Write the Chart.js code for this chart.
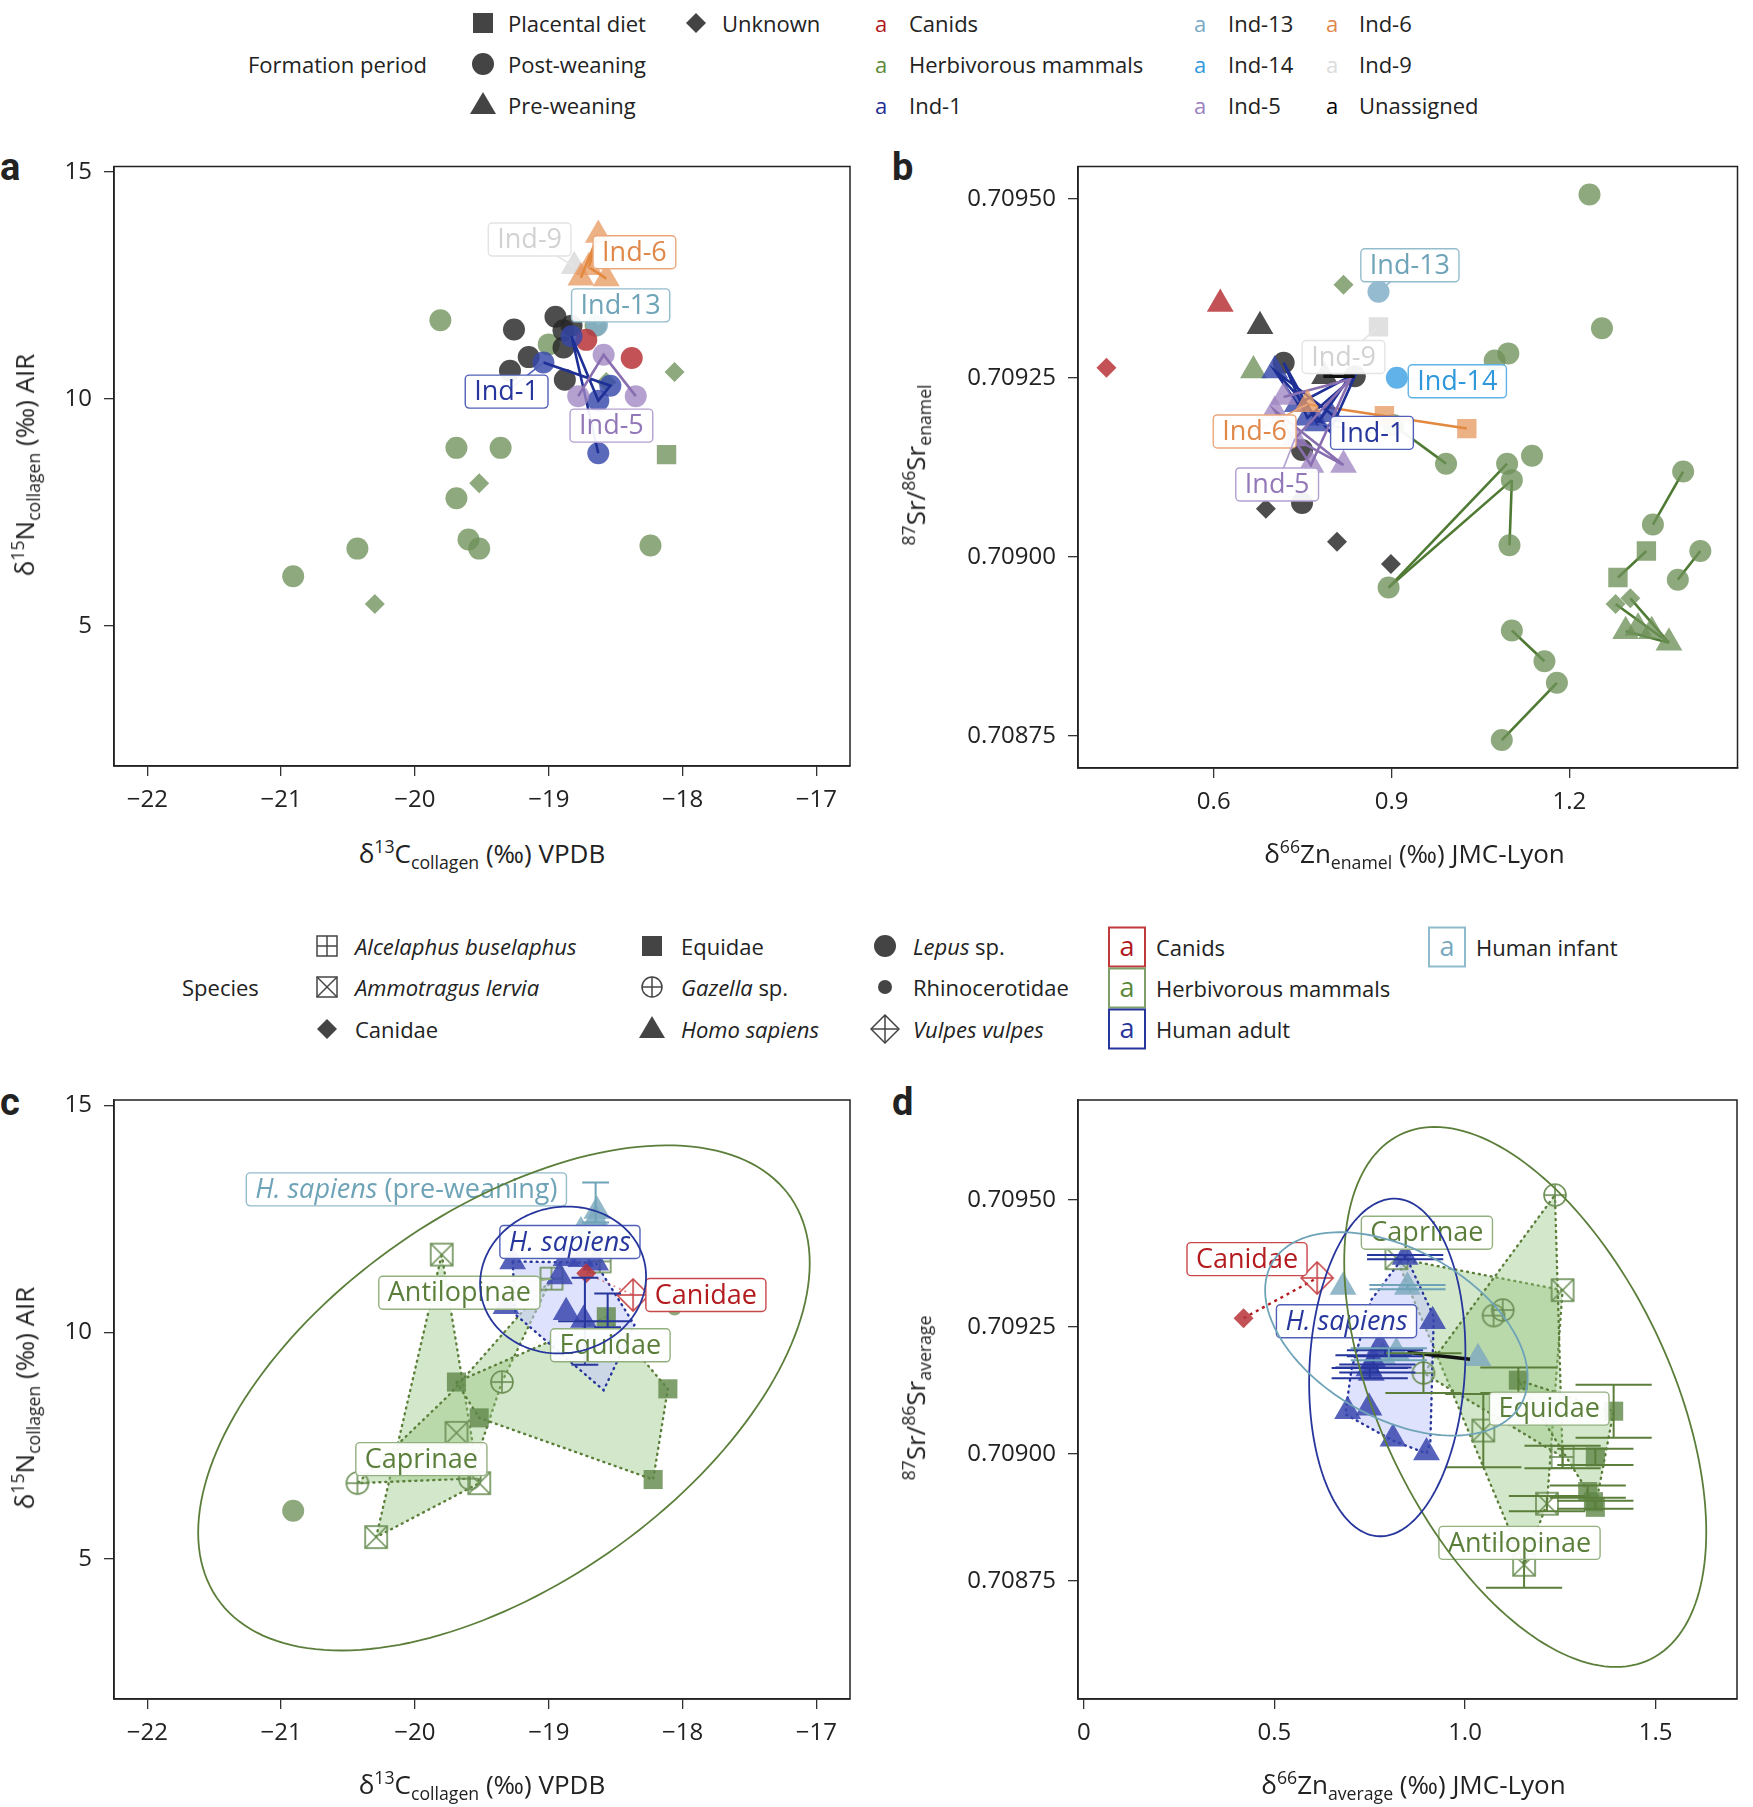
<!DOCTYPE html>
<html>
<head>
<meta charset="utf-8">
<script src="https://cdn.jsdelivr.net/npm/chart.js@4.4.1/dist/chart.umd.min.js"></script>
<style>
  html, body { margin: 0; background: #fff; font-family: "Open Sans", Roboto, sans-serif; color: #222; overflow: hidden; }
  #page { position: relative; width: 1753px; height: 1807px; overflow: hidden; }
  .abs { position: absolute; white-space: nowrap; }
  .leg { font-size: 22px; line-height: 30px; height: 30px; }
  .sym { position: absolute; transform: translate(-50%, -50%); }
  .box { position: absolute; width: 38px; height: 41px; border: 2px solid; box-sizing: border-box;
         transform: translate(-50%, -50%); text-align: center; font-size: 27px; line-height: 34px; }
  .letter { position: absolute; font-weight: bold; font-size: 38px; line-height: 40px; font-family: Roboto, sans-serif; }
  .xtitle { position: absolute; text-align: center; font-size: 26px; line-height: 36px; white-space: nowrap; }
  .ytitle { position: absolute; transform: translate(-50%, -50%) rotate(-90deg); font-size: 26px; white-space: nowrap; }
  sup, sub { font-size: 0.68em; }
  canvas { position: absolute; }
</style>
</head>
<body>
<div id="page">

  <!-- legend, top -->
  <svg class="sym" style="left:483px;top:23px" width="22" height="22"><rect x="1" y="1" width="20" height="20" fill="#444"/></svg>
  <div class="abs leg" style="left:508px;top:8px">Placental diet</div>
  <svg class="sym" style="left:696px;top:23px" width="22" height="22"><polygon points="11,1 21,11 11,21 1,11" fill="#444"/></svg>
  <div class="abs leg" style="left:722px;top:8px">Unknown</div>
  <div class="abs leg" style="left:248px;top:49px">Formation period</div>
  <svg class="sym" style="left:483px;top:64px" width="24" height="24"><circle cx="12" cy="12" r="11" fill="#444"/></svg>
  <div class="abs leg" style="left:508px;top:49px">Post-weaning</div>
  <svg class="sym" style="left:483px;top:103px" width="28" height="24"><polygon points="14,1 27,23 1,23" fill="#444"/></svg>
  <div class="abs leg" style="left:508px;top:90px">Pre-weaning</div>

  <div class="abs leg" style="left:875px;top:8px;color:#b0171c">a</div>
  <div class="abs leg" style="left:909px;top:8px">Canids</div>
  <div class="abs leg" style="left:875px;top:49px;color:#5b8a3a">a</div>
  <div class="abs leg" style="left:909px;top:49px">Herbivorous mammals</div>
  <div class="abs leg" style="left:875px;top:90px;color:#1e2f96">a</div>
  <div class="abs leg" style="left:909px;top:90px">Ind-1</div>
  <div class="abs leg" style="left:1194px;top:8px;color:#78a9bf">a</div>
  <div class="abs leg" style="left:1228px;top:8px">Ind-13</div>
  <div class="abs leg" style="left:1194px;top:49px;color:#2f98dc">a</div>
  <div class="abs leg" style="left:1228px;top:49px">Ind-14</div>
  <div class="abs leg" style="left:1194px;top:90px;color:#9a80c0">a</div>
  <div class="abs leg" style="left:1228px;top:90px">Ind-5</div>
  <div class="abs leg" style="left:1326px;top:8px;color:#e0884a">a</div>
  <div class="abs leg" style="left:1359px;top:8px">Ind-6</div>
  <div class="abs leg" style="left:1326px;top:49px;color:#dcdcdc">a</div>
  <div class="abs leg" style="left:1359px;top:49px">Ind-9</div>
  <div class="abs leg" style="left:1326px;top:90px;color:#000">a</div>
  <div class="abs leg" style="left:1359px;top:90px">Unassigned</div>

  <!-- legend, middle -->
  <div class="abs leg" style="left:182px;top:972px">Species</div>
  <svg class="sym" style="left:327px;top:946px" width="24" height="24"><rect x="2" y="2" width="20" height="20" fill="none" stroke="#444" stroke-width="1.5"/><line x1="12" y1="2" x2="12" y2="22" stroke="#444" stroke-width="1.5"/><line x1="2" y1="12" x2="22" y2="12" stroke="#444" stroke-width="1.5"/></svg>
  <div class="abs leg" style="left:355px;top:931px;font-style:italic">Alcelaphus buselaphus</div>
  <svg class="sym" style="left:327px;top:987px" width="24" height="24"><rect x="2" y="2" width="20" height="20" fill="none" stroke="#444" stroke-width="1.5"/><line x1="2" y1="2" x2="22" y2="22" stroke="#444" stroke-width="1.5"/><line x1="22" y1="2" x2="2" y2="22" stroke="#444" stroke-width="1.5"/></svg>
  <div class="abs leg" style="left:355px;top:972px;font-style:italic">Ammotragus lervia</div>
  <svg class="sym" style="left:327px;top:1029px" width="22" height="22"><polygon points="11,1 21,11 11,21 1,11" fill="#444"/></svg>
  <div class="abs leg" style="left:355px;top:1014px">Canidae</div>

  <svg class="sym" style="left:652px;top:946px" width="22" height="22"><rect x="1" y="1" width="20" height="20" fill="#444"/></svg>
  <div class="abs leg" style="left:681px;top:931px">Equidae</div>
  <svg class="sym" style="left:652px;top:987px" width="24" height="24"><circle cx="12" cy="12" r="10" fill="none" stroke="#444" stroke-width="1.5"/><line x1="12" y1="2" x2="12" y2="22" stroke="#444" stroke-width="1.5"/><line x1="2" y1="12" x2="22" y2="12" stroke="#444" stroke-width="1.5"/></svg>
  <div class="abs leg" style="left:681px;top:972px"><i>Gazella</i> sp.</div>
  <svg class="sym" style="left:652px;top:1027px" width="28" height="24"><polygon points="14,1 27,23 1,23" fill="#444"/></svg>
  <div class="abs leg" style="left:681px;top:1014px;font-style:italic">Homo sapiens</div>

  <svg class="sym" style="left:885px;top:946px" width="24" height="24"><circle cx="12" cy="12" r="11" fill="#444"/></svg>
  <div class="abs leg" style="left:913px;top:931px"><i>Lepus</i> sp.</div>
  <svg class="sym" style="left:885px;top:987px" width="16" height="16"><circle cx="8" cy="8" r="7" fill="#444"/></svg>
  <div class="abs leg" style="left:913px;top:972px">Rhinocerotidae</div>
  <svg class="sym" style="left:885px;top:1029px" width="30" height="30"><polygon points="15,1 29,15 15,29 1,15" fill="none" stroke="#444" stroke-width="1.5"/><line x1="15" y1="1" x2="15" y2="29" stroke="#444" stroke-width="1.5"/><line x1="1" y1="15" x2="29" y2="15" stroke="#444" stroke-width="1.5"/></svg>
  <div class="abs leg" style="left:913px;top:1014px;font-style:italic">Vulpes vulpes</div>

  <div class="box" style="left:1127px;top:947px;border-color:#c0393b;color:#b0171c">a</div>
  <div class="abs leg" style="left:1156px;top:932px">Canids</div>
  <div class="box" style="left:1127px;top:988px;border-color:#7f9f6a;color:#5b8a3a">a</div>
  <div class="abs leg" style="left:1156px;top:973px">Herbivorous mammals</div>
  <div class="box" style="left:1127px;top:1029px;border-color:#27369c;color:#27369c">a</div>
  <div class="abs leg" style="left:1156px;top:1014px">Human adult</div>
  <div class="box" style="left:1447px;top:947px;border-color:#8fbccd;color:#78a9bf">a</div>
  <div class="abs leg" style="left:1476px;top:932px">Human infant</div>

  <!-- panel letters -->
  <div class="letter" style="left:0px;top:147px">a</div>
  <div class="letter" style="left:892px;top:147px">b</div>
  <div class="letter" style="left:0px;top:1082px">c</div>
  <div class="letter" style="left:892px;top:1082px">d</div>

  <!-- charts (fixed pixel size) -->
  <canvas id="chartA" width="870" height="677" style="left:0px;top:151px;width:870px;height:677px"></canvas>
  <canvas id="chartB" width="873" height="679" style="left:880px;top:151px;width:873px;height:679px"></canvas>
  <canvas id="chartC" width="870" height="677" style="left:0px;top:1084px;width:870px;height:677px"></canvas>
  <canvas id="chartD" width="873" height="677" style="left:880px;top:1084px;width:873px;height:677px"></canvas>

  <!-- axis titles -->
  <div class="xtitle" style="left:114px;width:736px;top:828px">δ<sup>13</sup>C<sub>collagen</sub> (‰) VPDB</div>
  <div class="xtitle" style="left:1078px;width:673px;top:828px">δ<sup>66</sup>Zn<sub>enamel</sub> (‰) JMC-Lyon</div>
  <div class="xtitle" style="left:114px;width:736px;top:1759px">δ<sup>13</sup>C<sub>collagen</sub> (‰) VPDB</div>
  <div class="xtitle" style="left:1078px;width:671px;top:1759px">δ<sup>66</sup>Zn<sub>average</sub> (‰) JMC-Lyon</div>
  <div class="ytitle" style="left:25px;top:465px">δ<sup>15</sup>N<sub>collagen</sub> (‰) AIR</div>
  <div class="ytitle" style="left:916px;top:465px"><sup>87</sup>Sr/<sup>86</sup>Sr<sub>enamel</sub></div>
  <div class="ytitle" style="left:25px;top:1398px">δ<sup>15</sup>N<sub>collagen</sub> (‰) AIR</div>
  <div class="ytitle" style="left:916px;top:1398px"><sup>87</sup>Sr/<sup>86</sup>Sr<sub>average</sub></div>
</div>

<script>
// ---- ticks ----
const cTicksX = [-22, -21, -20, -19, -18, -17];
const cTickLabelsX = ['−22', '−21', '−20', '−19', '−18', '−17'];
const nTicksY = [5, 10, 15];
const nTickLabelsY = ['5', '10', '15'];
const srTicks = [0.70875, 0.709, 0.70925, 0.7095];
const srTickLabels = ['0.70875', '0.70900', '0.70925', '0.70950'];
const znTicksB = [0.6, 0.9, 1.2];
const znTickLabelsB = ['0.6', '0.9', '1.2'];
const znTicksD = [0, 0.5, 1, 1.5];
const znTickLabelsD = ['0', '0.5', '1.0', '1.5'];

// ---- panel a : d13C / d15N collagen, by formation period ----
const aHerbCircle = [[-19.81, 11.73], [-19.69, 8.92], [-19.36, 8.92], [-19.69, 7.81], [-19.60, 6.90], [-19.52, 6.70],
  [-20.43, 6.70], [-20.91, 6.09], [-18.24, 6.77], [-19.00, 11.20], [-18.65, 11.61]];
const aHerbDiamond = [[-18.06, 10.59], [-18.57, 10.37], [-19.52, 8.14], [-20.30, 5.48]];
const aHerbSquare = [[-18.12, 8.77]];
const aBlack = [[-18.95, 11.81], [-19.26, 11.53], [-18.89, 11.51], [-18.83, 11.61], [-19.15, 10.92], [-19.29, 10.62],
  [-18.89, 11.13], [-18.88, 10.42]];
const aCanid = [[-18.72, 11.30], [-18.38, 10.90]];
const aInd1 = [[-19.04, 10.80], [-18.83, 11.38], [-18.54, 10.29], [-18.63, 9.96], [-18.63, 8.80]];
const aInd1Path = [[-19.04, 10.80], [-18.54, 10.29], [-18.63, 9.96], [-18.83, 11.38], [-18.63, 8.80]];
const aInd5 = [[-18.59, 10.97], [-18.78, 10.06], [-18.35, 10.06]];
const aInd5Path = [[-18.78, 10.06], [-18.59, 10.97], [-18.35, 10.06]];
const aInd6 = [[-18.63, 13.61], [-18.70, 12.90], [-18.76, 12.67], [-18.57, 12.65]];
const aInd6Path = [[-18.76, 12.67], [-18.63, 13.61], [-18.70, 12.90], [-18.57, 12.65]];
const aInd9 = [[-18.81, 12.92]];
const aInd13 = [[-18.64, 11.63]];

// ---- panel b : d66Zn / 87Sr/86Sr enamel ----
const bHerbCircle = [[1.234, 0.709506], [1.255, 0.709319], [1.097, 0.709284], [1.074, 0.709274], [0.992, 0.709130],
  [0.903, 0.709184], [1.137, 0.709141], [1.095, 0.709130], [1.103, 0.709107], [0.895, 0.708957], [1.099, 0.709016],
  [1.392, 0.709119], [1.341, 0.709045], [1.421, 0.709008], [1.383, 0.708968], [1.103, 0.708897], [1.158, 0.708854],
  [1.179, 0.708824], [1.086, 0.708744]];
const bHerbSquare = [[1.330, 0.709008], [1.282, 0.708971]];
const bHerbDiamond = [[1.278, 0.708934], [1.303, 0.708942], [0.819, 0.709380]];
const bHerbTriangle = [[1.295, 0.708896], [1.368, 0.708880], [1.316, 0.708901], [1.339, 0.708896], [0.667, 0.709260]];
const bHerbLinks = [
  [[0.992, 0.709130], [0.903, 0.709184]], [[0.895, 0.708957], [1.095, 0.709130]], [[0.895, 0.708957], [1.103, 0.709107]],
  [[1.099, 0.709016], [1.103, 0.709107]], [[1.392, 0.709119], [1.341, 0.709045]], [[1.421, 0.709008], [1.383, 0.708968]],
  [[1.330, 0.709008], [1.282, 0.708971]], [[1.278, 0.708934], [1.368, 0.708880]], [[1.303, 0.708942], [1.368, 0.708880]],
  [[1.295, 0.708896], [1.368, 0.708880]], [[1.103, 0.708897], [1.158, 0.708854]], [[1.179, 0.708824], [1.086, 0.708744]]];
const bCanidDiamond = [[0.419, 0.709264]];
const bCanidTriangle = [[0.611, 0.709353]];
const bBlackTriangle = [[0.678, 0.709322], [0.787, 0.709252]];
const bBlackCircle = [[0.718, 0.709271], [0.838, 0.709252], [0.749, 0.709149], [0.749, 0.709075]];
const bBlackDiamond = [[0.688, 0.709067], [0.808, 0.709021], [0.899, 0.708990]];
const bBlackLink = [[0.785, 0.709252], [0.838, 0.709252]];
const bInd13 = [[0.878, 0.709370]];
const bInd9 = [[0.878, 0.709321]];
const bInd14 = [[0.909, 0.709250]];
const bInd6Square = [[0.888, 0.709197], [1.027, 0.709179]];
const bInd6Triangle = [[0.758, 0.709213]];
const bInd6Path = [[0.758, 0.709213], [1.027, 0.709179]];
const bInd1 = [[0.703, 0.709260], [0.775, 0.709186], [0.796, 0.709199], [0.758, 0.709194], [0.741, 0.709213]];
const bInd1Path = [[0.703, 0.709260], [0.796, 0.709175], [0.838, 0.709252], [0.758, 0.709194], [0.718, 0.709271],
  [0.775, 0.709186], [0.830, 0.709252], [0.741, 0.709213], [0.703, 0.709260], [0.805, 0.709195]];
const bInd5 = [[0.718, 0.709223], [0.703, 0.709204], [0.764, 0.709128], [0.819, 0.709128], [0.737, 0.709165]];
const bInd5Path = [[0.718, 0.709223], [0.830, 0.709248], [0.764, 0.709128], [0.703, 0.709204], [0.819, 0.709128],
  [0.737, 0.709165], [0.830, 0.709248]];

// ---- panel c : d13C / d15N collagen, by species ----
const cLepus = [[-20.91, 6.06]];
const cRhino = [[-18.06, 10.52]];
const cAmmotragus = [[-19.80, 11.71], [-19.69, 7.78], [-19.52, 6.67], [-20.29, 5.48]];
const cGazella = [[-19.35, 8.90], [-20.43, 6.67], [-19.59, 6.77]];
const cAlcelaphus = [[-18.98, 11.18], [-18.62, 11.56]];
const cEquidae = [[-19.69, 8.90], [-19.52, 8.11], [-18.11, 8.75], [-18.22, 6.75], [-18.57, 10.34]];
const cVulpes = [[-18.37, 10.82]];
const cCanidae = [[-18.72, 11.30]];
const cAdult = [[-19.27, 11.56], [-18.92, 11.23], [-18.87, 10.44], [-18.74, 10.27], [-19.32, 10.57], [-18.87, 11.63],
  [-18.76, 11.61], [-18.65, 11.53]];
const cInfant = [[-18.64, 12.67], [-18.65, 12.49], [-18.67, 12.01], [-18.76, 12.22]];
const cHullAdult = [[-19.27, 11.56], [-18.65, 11.53], [-18.36, 10.16], [-18.59, 8.72], [-19.25, 10.39]];
const cHullInfant = [[-18.64, 12.72], [-18.58, 12.55], [-18.62, 11.95], [-18.76, 12.22]];
const cHullCaprinae = [[-19.80, 11.71], [-19.52, 6.67], [-20.29, 5.48]];
const cHullAntilopinae = [[-18.98, 11.18], [-19.35, 8.90], [-19.59, 6.77], [-20.43, 6.67], [-19.75, 8.60]];
const cHullEquidae = [[-19.69, 8.90], [-18.57, 10.34], [-18.11, 8.75], [-18.22, 6.75], [-19.52, 8.11]];
const cCanidLink = [[-18.72, 11.30], [-18.37, 10.82]];
const cErrY = [[-18.73, 10.24, 0.96], [-18.56, 10.48, 0.37]];       // x, y, y-error (adult)
const cErrYInfant = [[-18.65, 12.86, 0.44]];
const cErrX = [[-18.655, 10.24, 0.275]];                             // x, y, x-error (adult)
const cEllipses = [[-19.335, 8.55, 2.285, 5.57, 0.533], [-18.893, 11.15, 0.62, 1.62, 0.05]];  // cx, cy, sx, sy, rho

// ---- panel d : d66Zn / 87Sr/86Sr average, by species ----
const dCanidae = [[0.419, 0.709267]];
const dVulpes = [[0.612, 0.709346]];
const dAmmotragus = [[0.820, 0.709385], [1.256, 0.709322], [1.048, 0.709046], [1.215, 0.708902], [1.155, 0.708782]];
const dGazella = [[1.236, 0.709509], [1.099, 0.709283], [1.075, 0.709272], [0.891, 0.709159]];
const dAlcelaphus = [[1.256, 0.708994]];
const dEquidae = [[1.140, 0.709145], [1.390, 0.709084], [1.342, 0.708994], [1.322, 0.708926], [1.337, 0.708906], [1.342, 0.708895]];
const dAdult = [[0.843, 0.709387], [0.915, 0.709261], [0.748, 0.709168], [0.777, 0.709211], [0.692, 0.709084],
  [0.748, 0.709091], [0.811, 0.709030], [0.899, 0.709003], [0.754, 0.709159], [0.760, 0.709182]];
const dInfant = [[0.680, 0.709328], [0.849, 0.709328], [1.034, 0.709188], [0.784, 0.709191], [0.820, 0.709200]];
const dBlackLink = [[0.849, 0.709200], [1.013, 0.709186]];
const dCanidLink = [[0.419, 0.709267], [0.612, 0.709346]];
const dHullAdult = [[0.843, 0.709392], [0.918, 0.709270], [0.909, 0.709023], [0.899, 0.709001], [0.811, 0.709026],
  [0.686, 0.709078], [0.702, 0.709166], [0.754, 0.709303]];
const dHullCaprinae = [[0.820, 0.709385], [1.256, 0.709322], [1.215, 0.708902], [1.155, 0.708782]];
const dHullAntilopinae = [[1.236, 0.709509], [1.256, 0.708994], [0.891, 0.709159]];
const dHullEquidae = [[1.140, 0.709145], [1.390, 0.709084], [1.342, 0.708895], [1.322, 0.708926]];
const dErrHerb = [[1.390, 0.709084, 0.000052], [1.048, 0.709046, 0.000072], [1.256, 0.708994, 0.000022],
  [1.342, 0.708994, 0.000016], [1.322, 0.708926, 0.000012], [1.342, 0.708900, 0.000008], [1.155, 0.708782, 0.000045],
  [0.891, 0.709159, 0.000039], [1.215, 0.708902, 0.000015], [1.140, 0.709145, 0.000025]];
const dErrAdult = [[0.843, 0.709387, 0.000004], [0.760, 0.709182, 0.000012], [0.750, 0.709159, 0.000010],
  [0.790, 0.709198, 0.000006], [0.770, 0.709168, 0.000008]];
const dErrInfant = [[0.849, 0.709328, 0.000004], [0.800, 0.709196, 0.000012]];
const dEllipses = [[1.158, 0.709112, 0.475, 0.000531, -0.5], [0.796, 0.709170, 0.205, 0.000332, 0.09],
  [0.820, 0.709236, 0.3445, 0.0002, -0.43]];

// colours
const GREEN = 'rgba(110,145,88,0.78)', GREEN_LINE = '#4f7a33', GREEN_TXT = '#5b7f3a', GREEN_BOX = '#93b07f';
const BLACK = 'rgba(38,38,38,0.82)', RED = 'rgba(185,52,58,0.85)';
const BLUE = 'rgba(55,72,172,0.82)', BLUE_LINE = '#1e2f96';
const PURPLE = 'rgba(160,135,195,0.78)', PURPLE_LINE = '#8a6fb0';
const ORANGE = 'rgba(232,155,100,0.78)', ORANGE_LINE = '#e2883f';
const LIGHT = 'rgba(222,222,222,0.95)', IND13 = 'rgba(130,175,200,0.85)', IND14 = 'rgba(80,170,230,0.9)';
const ADULT = 'rgba(58,72,175,0.85)', INFANT = 'rgba(128,172,192,0.85)';
const FONT = '"Open Sans", Roboto, sans-serif';

// outline symbols as small canvases
function sym(kind, color, s) {
  const c = document.createElement('canvas');
  c.width = c.height = s + 4;
  const g = c.getContext('2d');
  const m = 2, e = s + 2, h = (s + 4) / 2;
  g.strokeStyle = color; g.lineWidth = 1.6;
  const seg = (x1, y1, x2, y2) => { g.beginPath(); g.moveTo(x1, y1); g.lineTo(x2, y2); g.stroke(); };
  if (kind === 'boxX') { g.strokeRect(m, m, s, s); seg(m, m, e, e); seg(e, m, m, e); }
  if (kind === 'boxPlus') { g.strokeRect(m, m, s, s); seg(h, m, h, e); seg(m, h, e, h); }
  if (kind === 'circlePlus') { g.beginPath(); g.arc(h, h, s / 2, 0, 2 * Math.PI); g.stroke(); seg(h, m, h, e); seg(m, h, e, h); }
  if (kind === 'diamondPlus') {
    g.beginPath(); g.moveTo(h, m); g.lineTo(e, h); g.lineTo(h, e); g.lineTo(m, h); g.closePath(); g.stroke();
    seg(h, m, h, e); seg(m, h, e, h);
  }
  return c;
}
const SYM_BOXX = sym('boxX', '#6b8f55', 22);
const SYM_BOXPLUS = sym('boxPlus', '#6b8f55', 22);
const SYM_CPLUS = sym('circlePlus', '#6b8f55', 22);
const SYM_DPLUS = sym('diamondPlus', '#c8474a', 32);

const xy = arr => arr.map(p => ({ x: p[0], y: p[1] }));
function sc(arr, style, color, r) {
  return { data: xy(arr), pointStyle: style, pointRadius: r, pointHoverRadius: r,
    backgroundColor: color, borderColor: color, borderWidth: 0, showLine: false };
}
function ln(arr, color, w, dash) {
  return { data: xy(arr), showLine: true, borderColor: color, borderWidth: w, borderDash: dash || [],
    pointRadius: 0, pointHoverRadius: 0, fill: false };
}

// extra drawings per chart (hulls, error bars, labels, ellipses)
const EXTRAS = {};

function polyPath(ctx, xs, ys, pts) {
  ctx.beginPath();
  pts.forEach((p, i) => {
    const X = xs.getPixelForValue(p[0]), Y = ys.getPixelForValue(p[1]);
    if (i) ctx.lineTo(X, Y); else ctx.moveTo(X, Y);
  });
  ctx.closePath();
}

function drawLabel(ctx, xs, ys, L) {
  const X = xs.getPixelForValue(L.at[0]), Y = ys.getPixelForValue(L.at[1]);
  if (L.to) {
    ctx.beginPath();
    ctx.moveTo(xs.getPixelForValue(L.to[0]), ys.getPixelForValue(L.to[1]));
    ctx.lineTo(X, Y);
    ctx.strokeStyle = L.border; ctx.lineWidth = 1.6; ctx.setLineDash([]); ctx.stroke();
  }
  let w = 0;
  L.parts.forEach(p => { ctx.font = (p[1] ? 'italic ' : '') + '27px ' + FONT; p.w = ctx.measureText(p[0]).width; w += p.w; });
  const padX = 9, h = 33, x0 = X - w / 2 - padX, y0 = Y - h / 2;
  ctx.beginPath();
  if (ctx.roundRect) ctx.roundRect(x0, y0, w + 2 * padX, h, 4); else ctx.rect(x0, y0, w + 2 * padX, h);
  ctx.fillStyle = 'rgba(255,255,255,0.94)'; ctx.fill();
  ctx.strokeStyle = L.border; ctx.lineWidth = 1.4; ctx.stroke();
  let tx = X - w / 2;
  ctx.textBaseline = 'middle'; ctx.textAlign = 'left'; ctx.fillStyle = L.color;
  L.parts.forEach(p => { ctx.font = (p[1] ? 'italic ' : '') + '27px ' + FONT; ctx.fillText(p[0], tx, Y + 1); tx += p.w; });
}

const extrasPlugin = {
  id: 'extras',
  beforeDatasetsDraw(chart) {
    const e = EXTRAS[chart.canvas.id];
    if (!e || !e.hulls) return;
    const { ctx, chartArea: a, scales: { x, y } } = chart;
    ctx.save();
    ctx.beginPath(); ctx.rect(a.left, a.top, a.right - a.left, a.bottom - a.top); ctx.clip();
    e.hulls.forEach(h => {
      polyPath(ctx, x, y, h.pts);
      ctx.fillStyle = h.fill; ctx.fill();
      ctx.setLineDash([1, 5]); ctx.lineCap = 'round'; ctx.lineWidth = 2.4; ctx.strokeStyle = h.line; ctx.stroke();
    });
    ctx.restore();
  },
  afterDatasetsDraw(chart) {
    const e = EXTRAS[chart.canvas.id];
    if (!e) return;
    const { ctx, chartArea: a, scales: { x, y } } = chart;
    ctx.save();
    ctx.beginPath(); ctx.rect(a.left, a.top, a.right - a.left, a.bottom - a.top); ctx.clip();
    ctx.setLineDash([]); ctx.lineCap = 'butt';
    (e.errY || []).forEach(g => g.rows.forEach(r => {
      const X = x.getPixelForValue(r[0]);
      const Y1 = y.getPixelForValue(r[1] - r[2]), Y2 = y.getPixelForValue(r[1] + r[2]);
      const C1 = x.getPixelForValue(r[0] - g.cap), C2 = x.getPixelForValue(r[0] + g.cap);
      ctx.strokeStyle = g.color; ctx.lineWidth = 2;
      ctx.beginPath(); ctx.moveTo(X, Y1); ctx.lineTo(X, Y2);
      ctx.moveTo(C1, Y1); ctx.lineTo(C2, Y1); ctx.moveTo(C1, Y2); ctx.lineTo(C2, Y2); ctx.stroke();
    }));
    (e.errX || []).forEach(g => g.rows.forEach(r => {
      const Y = y.getPixelForValue(r[1]);
      ctx.strokeStyle = g.color; ctx.lineWidth = 2;
      ctx.beginPath(); ctx.moveTo(x.getPixelForValue(r[0] - r[2]), Y); ctx.lineTo(x.getPixelForValue(r[0] + r[2]), Y); ctx.stroke();
    }));
    (e.labels || []).forEach(L => drawLabel(ctx, x, y, L));
    (e.ellipses || []).forEach(el => {
      const p = el.p;
      ctx.beginPath();
      for (let k = 0; k <= 180; k++) {
        const t = k / 180 * 2 * Math.PI;
        const vx = p[0] + p[2] * Math.cos(t);
        const vy = p[1] + p[3] * (p[4] * Math.cos(t) + Math.sqrt(1 - p[4] * p[4]) * Math.sin(t));
        const X = x.getPixelForValue(vx), Y = y.getPixelForValue(vy);
        if (k) ctx.lineTo(X, Y); else ctx.moveTo(X, Y);
      }
      ctx.setLineDash([]); ctx.strokeStyle = el.color; ctx.lineWidth = 1.8; ctx.stroke();
    });
    ctx.restore();
  },
  afterDraw(chart) {
    const { ctx, chartArea: a } = chart;
    ctx.save();
    ctx.strokeStyle = '#222'; ctx.lineWidth = 1.5; ctx.setLineDash([]);
    ctx.strokeRect(a.left, a.top, a.right - a.left, a.bottom - a.top);
    ctx.restore();
  }
};

function axis(range, ticks, labels, kind, size) {
  return {
    type: 'linear', min: range[0], max: range[1],
    afterBuildTicks: s => { s.ticks = ticks.map(v => ({ value: v })); },
    // fixed axis size, and no extra room asked for the end labels, so the plot box sits where it should
    afterFit: s => {
      if (kind === 'x') { s.height = size; s.paddingLeft = 0; s.paddingRight = 0; }
      else { s.width = size; s.paddingTop = 0; s.paddingBottom = 0; }
    },
    ticks: {
      callback: v => labels[ticks.findIndex(t => Math.abs(t - v) < 1e-9)],
      font: { family: FONT, size: 24 }, color: '#222', padding: kind === 'x' ? 10 : 12, maxRotation: 0, autoSkip: false
    },
    grid: { drawOnChartArea: false, drawTicks: true, tickLength: 10, color: '#333', lineWidth: 1.3 },
    border: { display: true, color: '#222', width: 1.5 }
  };
}

function makeChart(id, datasets, ax) {
  datasets.forEach((d, i) => { d.order = -i; });
  return new Chart(document.getElementById(id), {
    type: 'scatter',
    data: { datasets },
    options: {
      animation: false, responsive: false, events: [],
      layout: { padding: { top: 14, right: ax.padR, left: 0, bottom: 0 } },
      plugins: { legend: { display: false }, tooltip: { enabled: false } },
      scales: {
        x: axis(ax.x, ax.xt, ax.xl, 'x', 62),
        y: axis(ax.y, ax.yt, ax.yl, 'y', ax.yw)
      }
    },
    plugins: [extrasPlugin]
  });
}

const lab = (text, at, color, border, to) => ({ parts: text, at, color, border, to });

// ---- panel a ----
EXTRAS.chartA = {
  labels: [
    lab([['Ind-9', 0]], [-19.143, 13.51], '#d2d2d2', '#e4e4e4', aInd9[0]),
    lab([['Ind-6', 0]], [-18.36, 13.23], '#e0884a', '#eba77a', aInd6[1]),
    lab([['Ind-13', 0]], [-18.463, 12.06], '#6ea3b8', '#93bccc', aInd13[0]),
    lab([['Ind-1', 0]], [-19.315, 10.16], '#27369c', '#5060b8', aInd1[0]),
    lab([['Ind-5', 0]], [-18.532, 9.41], '#9278b8', '#b29fd0')
  ]
};
makeChart('chartA', [
  sc(aHerbCircle, 'circle', GREEN, 11),
  sc(aHerbDiamond, 'rectRot', GREEN, 10),
  sc(aHerbSquare, 'rect', GREEN, 13.7),
  sc(aInd13, 'circle', IND13, 11),
  sc(aBlack, 'circle', BLACK, 11),
  sc(aCanid, 'circle', RED, 11),
  sc(aInd1, 'circle', BLUE, 11),
  ln(aInd1Path, BLUE_LINE, 2.6),
  sc(aInd5, 'circle', PURPLE, 11),
  ln(aInd5Path, PURPLE_LINE, 2.6),
  sc(aInd9, 'triangle', LIGHT, 15.5),
  sc(aInd6, 'triangle', ORANGE, 15.5),
  ln(aInd6Path, ORANGE_LINE, 2.6)
], { x: [-22.249, -16.749], xt: cTicksX, xl: cTickLabelsX, y: [1.91, 15.12], yt: nTicksY, yl: nTickLabelsY, yw: 114, padR: 20 });

// ---- panel b ----
EXTRAS.chartB = {
  labels: [
    lab([['Ind-13', 0]], [0.931, 0.709407], '#6ea3b8', '#93bccc', bInd13[0]),
    lab([['Ind-9', 0]], [0.819, 0.709279], '#d2d2d2', '#e4e4e4', bInd9[0]),
    lab([['Ind-14', 0]], [1.011, 0.709245], '#2f98dc', '#5fb3e6', bInd14[0]),
    lab([['Ind-6', 0]], [0.669, 0.709175], '#e0884a', '#eba77a', bInd6Triangle[0]),
    lab([['Ind-1', 0]], [0.867, 0.709173], '#27369c', '#5060b8', bInd1[1]),
    lab([['Ind-5', 0]], [0.707, 0.709101], '#9278b8', '#b29fd0', bInd5[4])
  ]
};
makeChart('chartB', [
  ...bHerbLinks.map(l => ln(l, GREEN_LINE, 2.6)),
  sc(bHerbCircle, 'circle', GREEN, 11),
  sc(bHerbSquare, 'rect', GREEN, 13.7),
  sc(bHerbDiamond, 'rectRot', GREEN, 10),
  sc(bHerbTriangle, 'triangle', GREEN, 15.5),
  sc(bCanidDiamond, 'rectRot', RED, 10),
  sc(bCanidTriangle, 'triangle', RED, 15.5),
  sc(bInd13, 'circle', IND13, 11),
  sc(bInd9, 'rect', LIGHT, 13.7),
  sc(bInd14, 'circle', IND14, 11),
  sc(bInd6Square, 'rect', ORANGE, 13.7),
  ln(bInd6Path, ORANGE_LINE, 2.6),
  sc(bBlackTriangle, 'triangle', BLACK, 15.5),
  sc(bBlackCircle, 'circle', BLACK, 11),
  sc(bBlackDiamond, 'rectRot', BLACK, 10),
  sc(bInd1, 'triangle', BLUE, 15.5),
  ln(bInd1Path, BLUE_LINE, 2.6),
  sc(bInd5, 'triangle', PURPLE, 15.5),
  ln(bInd5Path, PURPLE_LINE, 2.6),
  sc(bInd6Triangle, 'triangle', ORANGE, 15.5),
  ln(bBlackLink, '#111', 3.5)
], { x: [0.371, 1.4837], xt: znTicksB, xl: znTickLabelsB, y: [0.708705, 0.709545], yt: srTicks, yl: srTickLabels, yw: 198, padR: 0 });

// ---- panel c ----
const HERB_FILL = 'rgba(150,198,128,0.42)', ADULT_FILL = 'rgba(196,202,250,0.55)', INFANT_FILL = 'rgba(170,205,225,0.5)';
EXTRAS.chartC = {
  hulls: [
    { pts: cHullCaprinae, fill: HERB_FILL, line: '#5b7f3a' },
    { pts: cHullAntilopinae, fill: HERB_FILL, line: '#5b7f3a' },
    { pts: cHullEquidae, fill: HERB_FILL, line: '#5b7f3a' },
    { pts: cHullAdult, fill: ADULT_FILL, line: '#27369c' },
    { pts: cHullInfant, fill: INFANT_FILL, line: '#6ea3b8' }
  ],
  errY: [{ rows: cErrY, cap: 0.1, color: '#27369c' }, { rows: cErrYInfant, cap: 0.1, color: '#6ea3b8' }],
  errX: [{ rows: cErrX, color: '#27369c' }],
  labels: [
    lab([['H. sapiens', 1], [' (pre-weaning)', 0]], [-20.064, 13.15], '#6ea3b8', '#93bccc'),
    lab([['H. sapiens', 1]], [-18.842, 11.99], '#27369c', '#5060b8'),
    lab([['Antilopinae', 0]], [-19.668, 10.87], GREEN_TXT, GREEN_BOX, cAlcelaphus[0]),
    lab([['Canidae', 0]], [-17.826, 10.82], '#b31b1f', '#c8474a'),
    lab([['Equidae', 0]], [-18.54, 9.71], GREEN_TXT, GREEN_BOX),
    lab([['Caprinae', 0]], [-19.952, 7.2], GREEN_TXT, GREEN_BOX)
  ],
  ellipses: [{ p: cEllipses[0], color: '#5b7f3a' }, { p: cEllipses[1], color: '#27369c' }]
};
makeChart('chartC', [
  sc(cLepus, 'circle', GREEN, 11),
  sc(cRhino, 'circle', GREEN, 7),
  sc(cEquidae, 'rect', 'rgba(95,135,72,0.8)', 13.5),
  sc(cAmmotragus, SYM_BOXX, GREEN, 12),
  sc(cGazella, SYM_CPLUS, GREEN, 12),
  sc(cAlcelaphus, SYM_BOXPLUS, GREEN, 12),
  ln(cCanidLink, 'rgba(200,80,90,0.6)', 2, [2, 4]),
  sc(cInfant, 'triangle', INFANT, 15.5),
  sc(cAdult, 'triangle', ADULT, 15.5),
  sc(cCanidae, 'rectRot', RED, 10),
  sc(cVulpes, SYM_DPLUS, RED, 16)
], { x: [-22.249, -16.749], xt: cTicksX, xl: cTickLabelsX, y: [1.91, 15.12], yt: nTicksY, yl: nTickLabelsY, yw: 114, padR: 20 });

// ---- panel d ----
EXTRAS.chartD = {
  hulls: [
    { pts: dHullCaprinae, fill: HERB_FILL, line: '#5b7f3a' },
    { pts: dHullAntilopinae, fill: HERB_FILL, line: '#5b7f3a' },
    { pts: dHullEquidae, fill: HERB_FILL, line: '#5b7f3a' },
    { pts: dHullAdult, fill: ADULT_FILL, line: '#27369c' }
  ],
  errY: [
    { rows: dErrHerb, cap: 0.1, color: '#5b7f3a' },
    { rows: dErrAdult, cap: 0.1, color: '#27369c' },
    { rows: dErrInfant, cap: 0.1, color: '#6ea3b8' }
  ],
  labels: [
    lab([['Canidae', 0]], [0.428, 0.709383], '#b31b1f', '#c8474a'),
    lab([['Caprinae', 0]], [0.9, 0.709435], GREEN_TXT, GREEN_BOX),
    lab([['H. sapiens', 1]], [0.689, 0.709261], '#27369c', '#5060b8'),
    lab([['Equidae', 0]], [1.221, 0.709089], GREEN_TXT, GREEN_BOX),
    lab([['Antilopinae', 0]], [1.143, 0.708825], GREEN_TXT, GREEN_BOX)
  ],
  ellipses: [{ p: dEllipses[0], color: '#5b7f3a' }, { p: dEllipses[1], color: '#27369c' }, { p: dEllipses[2], color: '#6ea3b8' }]
};
makeChart('chartD', [
  sc(dEquidae, 'rect', 'rgba(95,135,72,0.8)', 13.5),
  sc(dAmmotragus, SYM_BOXX, GREEN, 12),
  sc(dGazella, SYM_CPLUS, GREEN, 12),
  sc(dAlcelaphus, SYM_BOXPLUS, GREEN, 12),
  sc(dInfant, 'triangle', INFANT, 15.5),
  sc(dAdult, 'triangle', ADULT, 15.5),
  ln(dBlackLink, '#111', 3.5),
  ln(dCanidLink, '#b31b1f', 2.4, [3, 4]),
  sc(dCanidae, 'rectRot', RED, 10),
  sc(dVulpes, SYM_DPLUS, RED, 16)
], { x: [-0.0155, 1.7137], xt: znTicksD, xl: znTickLabelsD, y: [0.708518, 0.709696], yt: srTicks, yl: srTickLabels, yw: 198, padR: 2 });
</script>
</body>
</html>
